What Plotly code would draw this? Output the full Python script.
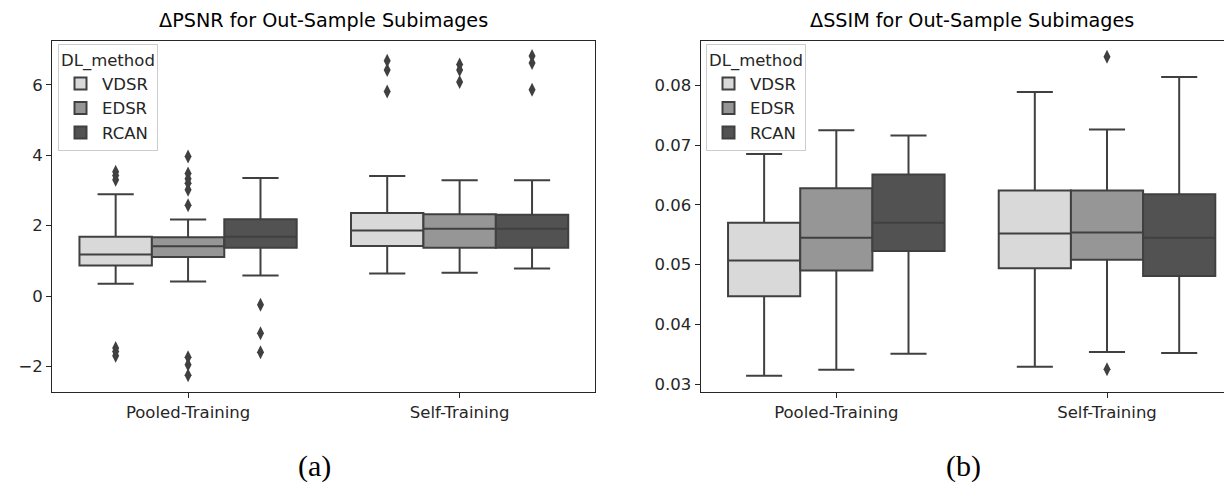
import plotly.graph_objects as go

# ---------------- data ----------------
categories = ["Pooled-Training", "Self-Training"]
methods = ["VDSR", "EDSR", "RCAN"]

# ΔPSNR box statistics, per method: [Pooled, Self]
psnr_lower = {"VDSR": [0.35, 0.64], "EDSR": [0.41, 0.66], "RCAN": [0.58, 0.78]}
psnr_q1 = {"VDSR": [0.87, 1.42], "EDSR": [1.11, 1.37], "RCAN": [1.37, 1.37]}
psnr_median = {"VDSR": [1.18, 1.86], "EDSR": [1.41, 1.91], "RCAN": [1.68, 1.91]}
psnr_q3 = {"VDSR": [1.68, 2.36], "EDSR": [1.67, 2.32], "RCAN": [2.18, 2.31]}
psnr_upper = {"VDSR": [2.89, 3.41], "EDSR": [2.17, 3.29], "RCAN": [3.35, 3.29]}
psnr_outliers = {
    "VDSR": [[3.53, 3.42, 3.30, -1.48, -1.58, -1.70], [6.68, 6.42, 5.81]],
    "EDSR": [[3.96, 3.48, 3.33, 3.20, 3.02, 2.58, -1.74, -1.95, -2.25], [6.58, 6.42, 6.08]],
    "RCAN": [[-0.25, -1.06, -1.60], [6.82, 6.62, 5.86]],
}

# ΔSSIM box statistics, per method: [Pooled, Self]
ssim_lower = {"VDSR": [0.0314, 0.0329], "EDSR": [0.0324, 0.0354], "RCAN": [0.0351, 0.0352]}
ssim_q1 = {"VDSR": [0.0447, 0.0494], "EDSR": [0.0490, 0.0508], "RCAN": [0.0523, 0.0481]}
ssim_median = {"VDSR": [0.0507, 0.0552], "EDSR": [0.0545, 0.0554], "RCAN": [0.0570, 0.0545]}
ssim_q3 = {"VDSR": [0.0570, 0.0624], "EDSR": [0.0628, 0.0624], "RCAN": [0.0651, 0.0618]}
ssim_upper = {"VDSR": [0.0685, 0.0789], "EDSR": [0.0725, 0.0726], "RCAN": [0.0716, 0.0814]}
ssim_outliers = {
    "VDSR": [[], []],
    "EDSR": [[], [0.0848, 0.0325]],
    "RCAN": [[], []],
}

psnr_ticks = [-2, 0, 2, 4, 6]
ssim_ticks = [0.03, 0.04, 0.05, 0.06, 0.07, 0.08]

fills = {"VDSR": "#d9d9d9", "EDSR": "#969696", "RCAN": "#525252"}
edge = "#404040"
box_w = 0.8 / 3
offsets = {"VDSR": -box_w, "EDSR": 0.0, "RCAN": box_w}

fig = go.Figure()


def add_panel(xaxis, yaxis, legend, lower, q1, med, q3, upper, outl):
    for m in methods:
        xs = [i + offsets[m] for i in range(len(categories))]
        fig.add_trace(go.Box(
            x=xs, q1=q1[m], median=med[m], q3=q3[m],
            lowerfence=lower[m], upperfence=upper[m],
            width=box_w, whiskerwidth=0.5,
            fillcolor=fills[m], line=dict(color=edge, width=2),
            name=m, xaxis=xaxis, yaxis=yaxis, legend=legend,
            boxpoints=False, hoverinfo="skip",
        ))
    for m in methods:
        ox, oy = [], []
        for i in range(len(categories)):
            for v in outl[m][i]:
                ox.append(i + offsets[m])
                oy.append(v)
        if ox:
            fig.add_trace(go.Scatter(
                x=ox, y=oy, mode="markers", showlegend=False,
                marker=dict(symbol="diamond-tall", size=10, color=edge),
                xaxis=xaxis, yaxis=yaxis, hoverinfo="skip",
            ))


add_panel("x", "y", "legend", psnr_lower, psnr_q1, psnr_median, psnr_q3, psnr_upper, psnr_outliers)
add_panel("x2", "y2", "legend2", ssim_lower, ssim_q1, ssim_median, ssim_q3, ssim_upper, ssim_outliers)

W, H = 1232, 483
font = dict(family="DejaVu Sans", size=16.5, color="#262626")
axcol = "#262626"

y_dom = [1 - 385.7 / H, 1 - 33.3 / H]
common_x = dict(tickmode="array", tickvals=list(range(len(categories))), ticktext=categories,
                ticks="outside", ticklen=5, tickcolor=axcol, showline=True, linecolor=axcol,
                linewidth=1.3, showgrid=False, zeroline=False, tickfont=font)
common_y = dict(ticks="outside", ticklen=5, tickcolor=axcol, showline=True, linecolor=axcol,
                linewidth=1.3, showgrid=False, zeroline=False, tickfont=font)

legend_common = dict(
    title=dict(text="DL_method", font=font), font=font,
    bgcolor="rgba(255,255,255,0.8)", bordercolor="#cccccc", borderwidth=1,
    xanchor="left", yanchor="top", itemwidth=33, tracegroupgap=0,
)

fig.update_layout(
    width=W, height=H, margin=dict(l=0, r=0, t=0, b=0),
    paper_bgcolor="white", plot_bgcolor="white",
    showlegend=True,
    xaxis=dict(domain=[44.3 / W, 587.4 / W], range=[-0.5, 1.5], mirror=True, anchor="y", **common_x),
    yaxis=dict(domain=y_dom, range=[-2.73, 7.24], tickvals=psnr_ticks, mirror=True, anchor="x", **common_y),
    xaxis2=dict(domain=[692.7 / W, 1.0], range=[-0.501, 1.4913], mirror=True, anchor="y2", **common_x),
    yaxis2=dict(domain=y_dom, range=[0.02867, 0.0874], tickvals=ssim_ticks, tickformat=".2f",
                mirror=False, anchor="x2", **common_y),
    legend=dict(x=50 / W, y=1 - 36 / H, **legend_common),
    legend2=dict(x=698 / W, y=1 - 36 / H, **legend_common),
)

title_font = dict(family="DejaVu Sans", size=19.2, color="black")
fig.add_annotation(text="ΔPSNR for Out-Sample Subimages", x=(44.3 + 587.4) / 2 / W, y=1 - 13 / H,
                   xref="paper", yref="paper", showarrow=False, font=title_font,
                   xanchor="center", yanchor="middle")
fig.add_annotation(text="ΔSSIM for Out-Sample Subimages", x=(692.7 + 1234.6) / 2 / W, y=1 - 13 / H,
                   xref="paper", yref="paper", showarrow=False, font=title_font,
                   xanchor="center", yanchor="middle")

label_font = dict(family="Liberation Serif", size=30, color="black")
fig.add_annotation(text="(a)", x=306.5 / W, y=1 - 460 / H, xref="paper", yref="paper",
                   showarrow=False, font=label_font, xanchor="center", yanchor="middle")
fig.add_annotation(text="(b)", x=955 / W, y=1 - 460 / H, xref="paper", yref="paper",
                   showarrow=False, font=label_font, xanchor="center", yanchor="middle")

fig.write_html("out.html")
